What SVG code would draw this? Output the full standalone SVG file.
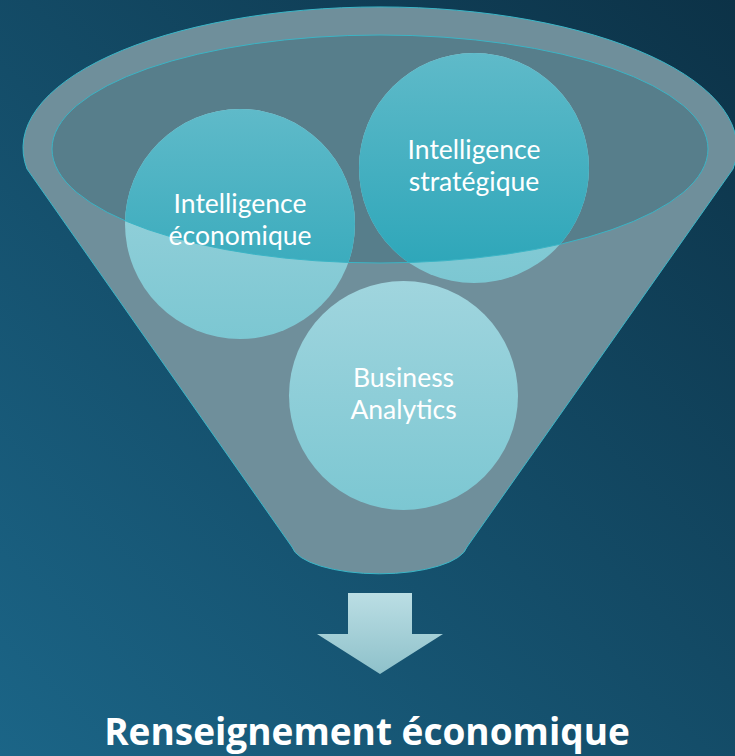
<svg xmlns="http://www.w3.org/2000/svg" width="735" height="756" viewBox="0 0 735 756">
  <defs>
    <linearGradient id="bg" x1="0" y1="756" x2="735" y2="0" gradientUnits="userSpaceOnUse">
      <stop offset="0" stop-color="#1b6587"/>
      <stop offset="1" stop-color="#0c3247"/>
    </linearGradient>
    <linearGradient id="light" x1="0" y1="0" x2="0" y2="1">
      <stop offset="0" stop-color="#a0d5de"/>
      <stop offset="1" stop-color="#7cc7d2"/>
    </linearGradient>
    <linearGradient id="deep" x1="0" y1="0" x2="0" y2="1">
      <stop offset="0" stop-color="#5fbac9"/>
      <stop offset="1" stop-color="#2aa5b8"/>
    </linearGradient>
    <linearGradient id="arrowGrad" x1="0" y1="0" x2="0" y2="1">
      <stop offset="0" stop-color="#bbdee4"/>
      <stop offset="1" stop-color="#8ec1ca"/>
    </linearGradient>
    <clipPath id="mouth">
      <ellipse cx="380" cy="149" rx="328" ry="114"/>
    </clipPath>
    <style>
      .lbl { font-family: Lato, "Open Sans", sans-serif; font-size: 26.5px; fill: #ffffff; text-anchor: middle; }
      .title { font-family: "Open Sans", "Noto Sans", sans-serif; font-size: 37px; font-weight: bold; fill: #ffffff; text-anchor: middle; }
      .c-light { fill: url(#light); }
      .c-deep { fill: url(#deep); }
    </style>
  </defs>

  <rect x="0" y="0" width="735" height="756" fill="url(#bg)"/>

  <g id="funnel">
    <path d="M 292 547 L 27 169 A 357 141 0 1 1 733 169 L 467 547 A 88 30 0 0 1 292 547 Z" fill="#6f8f9b" stroke="#3ab6c7" stroke-width="1"/>
    <ellipse cx="380" cy="149" rx="328" ry="114" fill="#577e8b"/>
  </g>

  <g id="node-economique">
    <circle class="c-light" cx="240" cy="224" r="115"/>
    <circle class="c-deep" cx="240" cy="224" r="115" clip-path="url(#mouth)"/>
  </g>
  <g id="node-strategique">
    <circle class="c-light" cx="474" cy="168" r="115"/>
    <circle class="c-deep" cx="474" cy="168" r="115" clip-path="url(#mouth)"/>
  </g>
  <g id="node-analytics">
    <circle class="c-light" cx="403.5" cy="395.5" r="114.5"/>
  </g>

  <ellipse id="mouth-rim" cx="380" cy="149" rx="328" ry="114" fill="none" stroke="#3bb4c5" stroke-width="1"/>

  <g id="labels">
    <text class="lbl" x="240" y="213">Intelligence</text>
    <text class="lbl" x="240" y="245">économique</text>
    <text class="lbl" x="474" y="159">Intelligence</text>
    <text class="lbl" x="474" y="191">stratégique</text>
    <text class="lbl" x="403.5" y="387">Business</text>
    <text class="lbl" x="403.5" y="419">Analytics</text>
  </g>

  <g id="connectors">
    <path id="arrow" d="M 348 593 L 412 593 L 412 634 L 443 634 L 380 674 L 317 634 L 348 634 Z" fill="url(#arrowGrad)"/>
  </g>

  <g id="node-result">
    <text class="title" x="367" y="745">Renseignement économique</text>
  </g>
</svg>
